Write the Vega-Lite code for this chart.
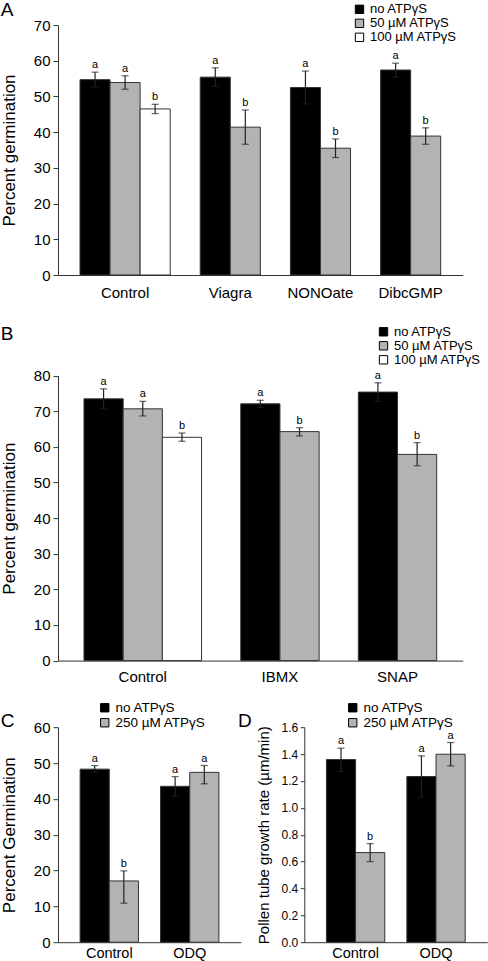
{
  "$schema": "https://vega.github.io/schema/vega-lite/v6.json",
  "padding": {"left": 0, "top": 0, "right": 0, "bottom": 0},
  "background": "white",
  "config": {
    "font": "Liberation Sans",
    "view": {"stroke": null},
    "axis": {"grid": false, "labelOverlap": false, "domainColor": "#333", "domainWidth": 1, "tickColor": "#333", "labelColor": "#000", "titleColor": "#000", "titleFontWeight": "normal", "labelFont": "Liberation Sans", "titleFont": "Liberation Sans"},
    "legend": {"labelFont": "Liberation Sans", "labelColor": "#000"},
    "title": {"font": "Liberation Sans", "color": "#000"}
  },
  "datasets": {
    "A": [
      {"group": "Control", "series": "no ATPγS", "bar": "Control|no", "mean": 54.7, "lo": 52.6, "hi": 56.8, "sig": "a"},
      {"group": "Control", "series": "50 µM ATPγS", "bar": "Control|50", "mean": 53.9, "lo": 52.0, "hi": 55.8, "sig": "a"},
      {"group": "Control", "series": "100 µM ATPγS", "bar": "Control|100", "mean": 46.5, "lo": 45.2, "hi": 47.8, "sig": "b"},
      {"group": "Viagra", "series": "no ATPγS", "bar": "Viagra|no", "mean": 55.4, "lo": 52.8, "hi": 58.0, "sig": "a"},
      {"group": "Viagra", "series": "50 µM ATPγS", "bar": "Viagra|50", "mean": 41.4, "lo": 36.6, "hi": 46.2, "sig": "b"},
      {"group": "NONOate", "series": "no ATPγS", "bar": "NONOate|no", "mean": 52.5, "lo": 47.9, "hi": 57.1, "sig": "a"},
      {"group": "NONOate", "series": "50 µM ATPγS", "bar": "NONOate|50", "mean": 35.5, "lo": 32.9, "hi": 38.1, "sig": "b"},
      {"group": "DibcGMP", "series": "no ATPγS", "bar": "DibcGMP|no", "mean": 57.4, "lo": 55.4, "hi": 59.3, "sig": "a"},
      {"group": "DibcGMP", "series": "50 µM ATPγS", "bar": "DibcGMP|50", "mean": 38.9, "lo": 36.6, "hi": 41.2, "sig": "b"}
    ],
    "B": [
      {"group": "Control", "series": "no ATPγS", "bar": "Control|no", "mean": 73.5, "lo": 70.7, "hi": 76.3, "sig": "a"},
      {"group": "Control", "series": "50 µM ATPγS", "bar": "Control|50", "mean": 70.7, "lo": 68.7, "hi": 72.8, "sig": "a"},
      {"group": "Control", "series": "100 µM ATPγS", "bar": "Control|100", "mean": 62.7, "lo": 61.6, "hi": 63.9, "sig": "b"},
      {"group": "IBMX", "series": "no ATPγS", "bar": "IBMX|no", "mean": 72.1, "lo": 71.1, "hi": 73.1, "sig": "a"},
      {"group": "IBMX", "series": "50 µM ATPγS", "bar": "IBMX|50", "mean": 64.3, "lo": 63.1, "hi": 65.4, "sig": "b"},
      {"group": "SNAP", "series": "no ATPγS", "bar": "SNAP|no", "mean": 75.4, "lo": 72.8, "hi": 78.0, "sig": "a"},
      {"group": "SNAP", "series": "50 µM ATPγS", "bar": "SNAP|50", "mean": 57.9, "lo": 54.7, "hi": 61.2, "sig": "b"}
    ],
    "C": [
      {"group": "Control", "series": "no ATPγS", "mean": 48.3, "lo": 47.4, "hi": 49.3, "sig": "a"},
      {"group": "Control", "series": "250 µM ATPγS", "mean": 17.1, "lo": 10.9, "hi": 19.9, "sig": "b"},
      {"group": "ODQ", "series": "no ATPγS", "mean": 43.5, "lo": 40.8, "hi": 46.2, "sig": "a"},
      {"group": "ODQ", "series": "250 µM ATPγS", "mean": 47.4, "lo": 44.2, "hi": 49.3, "sig": "a"}
    ],
    "D": [
      {"group": "Control", "series": "no ATPγS", "mean": 1.359, "lo": 1.27, "hi": 1.444, "sig": "a"},
      {"group": "Control", "series": "250 µM ATPγS", "mean": 0.667, "lo": 0.60, "hi": 0.734, "sig": "b"},
      {"group": "ODQ", "series": "no ATPγS", "mean": 1.233, "lo": 1.08, "hi": 1.387, "sig": "a"},
      {"group": "ODQ", "series": "250 µM ATPγS", "mean": 1.399, "lo": 1.312, "hi": 1.486, "sig": "a"}
    ]
  },
  "bounds": "flush",
  "spacing": 66.1,
  "resolve": {"scale": {"color": "independent"}, "legend": {"color": "independent"}},
  "vconcat": [
    {
      "width": 404.7,
      "height": 250,
      "title": {"text": "A", "anchor": "start", "frame": "bounds", "fontSize": 19, "fontWeight": "normal", "baseline": "top", "offset": -17},
      "data": {"name": "A"},
      "encoding": {
        "x": {
          "field": "bar", "type": "nominal", "sort": null,
          "scale": {"domain": ["Control|no", "Control|50", "Control|100", "g1", "Viagra|no", "Viagra|50", "g2", "NONOate|no", "NONOate|50", "g3", "DibcGMP|no", "DibcGMP|50"], "paddingInner": 0, "paddingOuter": 0.732},
          "axis": {
            "title": null, "ticks": false, "tickSize": 0, "labelAngle": 0, "labelFontSize": 15, "labelPadding": 10, "labelBaseline": "top", "labelOverlap": false,
            "labelExpr": "datum.value == 'Control|50' ? 'Control' : datum.value == 'Viagra|no' ? 'Viagra' : datum.value == 'NONOate|no' ? 'NONOate' : datum.value == 'DibcGMP|no' ? 'DibcGMP' : ''",
            "labelOffset": {"condition": {"test": "datum.value == 'Control|50'", "value": 0}, "value": 15}
          }
        },
        "y": {"type": "quantitative", "title": "Percent germination", "scale": {"domain": [0, 70]},
          "axis": {"values": [0, 10, 20, 30, 40, 50, 60, 70], "labelOverlap": false, "tickSize": 5, "labelFontSize": 15, "labelPadding": 3, "titleFontSize": 17, "titlePadding": 14.5}}
      },
      "layer": [
        {
          "mark": {"type": "bar", "stroke": "#333", "strokeWidth": 1},
          "encoding": {
            "y": {"field": "mean"},
            "color": {"field": "series", "type": "nominal",
              "scale": {"domain": ["no ATPγS", "50 µM ATPγS", "100 µM ATPγS"], "range": ["#000000", "#b3b3b3", "#ffffff"]},
              "legend": {"orient": "none", "legendX": 295, "legendY": -22.2, "title": null, "symbolType": "square", "symbolSize": 70, "symbolStrokeColor": "#000", "symbolStrokeWidth": 1, "symbolOpacity": 1, "labelFontSize": 13, "labelOffset": 4, "rowPadding": 0, "padding": 0}}
          }
        },
        {"mark": {"type": "rule", "color": "#222", "strokeWidth": 1.2}, "encoding": {"y": {"field": "lo"}, "y2": {"field": "hi"}}},
        {"mark": {"type": "tick", "color": "#222", "size": 7, "thickness": 1.2}, "encoding": {"y": {"field": "lo"}}},
        {"mark": {"type": "tick", "color": "#222", "size": 7, "thickness": 1.2}, "encoding": {"y": {"field": "hi"}}},
        {"mark": {"type": "text", "fontSize": 11, "dy": -4, "baseline": "alphabetic", "color": "#000"}, "encoding": {"y": {"field": "hi"}, "text": {"field": "sig"}}}
      ]
    },
    {
      "width": 404.7,
      "height": 319.5,
      "title": {"text": "B", "anchor": "start", "frame": "bounds", "fontSize": 19, "fontWeight": "normal", "baseline": "top", "offset": -19},
      "data": {"name": "B"},
      "encoding": {
        "x": {
          "field": "bar", "type": "nominal", "sort": null,
          "scale": {"domain": ["Control|no", "Control|50", "Control|100", "g1", "IBMX|no", "IBMX|50", "g2", "SNAP|no", "SNAP|50"], "paddingInner": 0, "paddingOuter": 0.663},
          "axis": {
            "title": null, "ticks": false, "tickSize": 0, "labelAngle": 0, "labelFontSize": 15, "labelPadding": 8.5, "labelBaseline": "top", "labelOverlap": false,
            "labelExpr": "datum.value == 'Control|50' ? 'Control' : datum.value == 'IBMX|no' ? 'IBMX' : datum.value == 'SNAP|no' ? 'SNAP' : ''",
            "labelOffset": {"condition": {"test": "datum.value == 'Control|50'", "value": 0}, "value": 19.6}
          }
        },
        "y": {"type": "quantitative", "title": "Percent germination", "scale": {"domain": [0, 80], "range": [319.5, 34.6]},
          "axis": {"values": [0, 10, 20, 30, 40, 50, 60, 70, 80], "labelOverlap": false, "tickSize": 5, "labelFontSize": 15, "labelPadding": 3, "titleFontSize": 17, "titlePadding": 14.5}}
      },
      "layer": [
        {
          "mark": {"type": "bar", "stroke": "#333", "strokeWidth": 1},
          "encoding": {
            "y": {"field": "mean"},
            "color": {"field": "series", "type": "nominal",
              "scale": {"domain": ["no ATPγS", "50 µM ATPγS", "100 µM ATPγS"], "range": ["#000000", "#b3b3b3", "#ffffff"]},
              "legend": {"orient": "none", "legendX": 319, "legendY": -15.8, "title": null, "symbolType": "square", "symbolSize": 70, "symbolStrokeColor": "#000", "symbolStrokeWidth": 1, "symbolOpacity": 1, "labelFontSize": 13, "labelOffset": 4, "rowPadding": 0, "padding": 0}}
          }
        },
        {"mark": {"type": "rule", "color": "#222", "strokeWidth": 1.2}, "encoding": {"y": {"field": "lo"}, "y2": {"field": "hi"}}},
        {"mark": {"type": "tick", "color": "#222", "size": 7, "thickness": 1.2}, "encoding": {"y": {"field": "lo"}}},
        {"mark": {"type": "tick", "color": "#222", "size": 7, "thickness": 1.2}, "encoding": {"y": {"field": "hi"}}},
        {"mark": {"type": "text", "fontSize": 11, "dy": -4, "baseline": "alphabetic", "color": "#000"}, "encoding": {"y": {"field": "hi"}, "text": {"field": "sig"}}}
      ]
    },
    {
      "bounds": "flush",
      "spacing": 63.3,
      "resolve": {"scale": {"color": "independent"}, "legend": {"color": "independent"}},
      "hconcat": [
        {
          "width": 183,
          "height": 215,
          "title": {"text": "C", "anchor": "start", "frame": "bounds", "fontSize": 19, "fontWeight": "normal", "baseline": "top", "offset": -29.8},
          "data": {"name": "C"},
          "encoding": {
            "x": {"field": "group", "type": "nominal", "sort": null, "scale": {"domain": ["Control", "ODQ"], "paddingInner": 0.275, "paddingOuter": 0.275},
              "axis": {"title": null, "ticks": false, "tickSize": 0, "labelAngle": 0, "labelFontSize": 14.5, "labelPadding": 4.5, "labelBaseline": "top"}},
            "xOffset": {"field": "series", "type": "nominal", "scale": {"domain": ["no ATPγS", "250 µM ATPγS"], "paddingInner": 0, "paddingOuter": 0}},
            "y": {"type": "quantitative", "title": "Percent Germination", "scale": {"domain": [0, 60]},
              "axis": {"values": [0, 10, 20, 30, 40, 50, 60], "labelOverlap": false, "tickSize": 5, "labelFontSize": 15, "labelPadding": 3, "titleFontSize": 17, "titlePadding": 14.5}}
          },
          "layer": [
            {
              "mark": {"type": "bar", "stroke": "#333", "strokeWidth": 1},
              "encoding": {
                "y": {"field": "mean"},
                "color": {"field": "series", "type": "nominal",
                  "scale": {"domain": ["no ATPγS", "250 µM ATPγS"], "range": ["#000000", "#b3b3b3"]},
                  "legend": {"orient": "none", "legendX": 40, "legendY": -26.2, "title": null, "symbolType": "square", "symbolSize": 70, "symbolStrokeColor": "#000", "symbolStrokeWidth": 1, "symbolOpacity": 1, "labelFontSize": 13.5, "labelOffset": 4, "rowPadding": 0, "padding": 0}}
              }
            },
            {"mark": {"type": "rule", "color": "#222", "strokeWidth": 1.2}, "encoding": {"y": {"field": "lo"}, "y2": {"field": "hi"}}},
            {"mark": {"type": "tick", "color": "#222", "size": 7, "thickness": 1.2}, "encoding": {"y": {"field": "lo"}}},
            {"mark": {"type": "tick", "color": "#222", "size": 7, "thickness": 1.2}, "encoding": {"y": {"field": "hi"}}},
            {"mark": {"type": "text", "fontSize": 11, "dy": -4, "baseline": "alphabetic", "color": "#000"}, "encoding": {"y": {"field": "hi"}, "text": {"field": "sig"}}}
          ]
        },
        {
          "width": 183,
          "height": 215,
          "title": {"text": "D", "anchor": "start", "frame": "bounds", "fontSize": 19, "fontWeight": "normal", "baseline": "top", "offset": -29.8, "dx": -18.7},
          "data": {"name": "D"},
          "encoding": {
            "x": {"field": "group", "type": "nominal", "sort": null, "scale": {"domain": ["Control", "ODQ"], "paddingInner": 0.275, "paddingOuter": 0.275},
              "axis": {"title": null, "ticks": false, "tickSize": 0, "labelAngle": 0, "labelFontSize": 14.5, "labelPadding": 4.5, "labelBaseline": "top"}},
            "xOffset": {"field": "series", "type": "nominal", "scale": {"domain": ["no ATPγS", "250 µM ATPγS"], "paddingInner": 0, "paddingOuter": 0}},
            "y": {"type": "quantitative", "title": "Pollen tube growth rate (µm/min)", "scale": {"domain": [0, 1.6]},
              "axis": {"values": [0, 0.2, 0.4, 0.6, 0.8, 1.0, 1.2, 1.4, 1.6], "format": ".1f", "labelOverlap": false, "tickSize": 4, "labelFontSize": 12, "labelPadding": 2.5, "titleFontSize": 15, "titlePadding": 9.5}}
          },
          "layer": [
            {
              "mark": {"type": "bar", "stroke": "#333", "strokeWidth": 1},
              "encoding": {
                "y": {"field": "mean"},
                "color": {"field": "series", "type": "nominal",
                  "scale": {"domain": ["no ATPγS", "250 µM ATPγS"], "range": ["#000000", "#b3b3b3"]},
                  "legend": {"orient": "none", "legendX": 41.7, "legendY": -26.2, "title": null, "symbolType": "square", "symbolSize": 70, "symbolStrokeColor": "#000", "symbolStrokeWidth": 1, "symbolOpacity": 1, "labelFontSize": 13.5, "labelOffset": 4, "rowPadding": 0, "padding": 0}}
              }
            },
            {"mark": {"type": "rule", "color": "#222", "strokeWidth": 1.2}, "encoding": {"y": {"field": "lo"}, "y2": {"field": "hi"}}},
            {"mark": {"type": "tick", "color": "#222", "size": 7, "thickness": 1.2}, "encoding": {"y": {"field": "lo"}}},
            {"mark": {"type": "tick", "color": "#222", "size": 7, "thickness": 1.2}, "encoding": {"y": {"field": "hi"}}},
            {"mark": {"type": "text", "fontSize": 11, "dy": -4, "baseline": "alphabetic", "color": "#000"}, "encoding": {"y": {"field": "hi"}, "text": {"field": "sig"}}}
          ]
        }
      ]
    }
  ]
}
